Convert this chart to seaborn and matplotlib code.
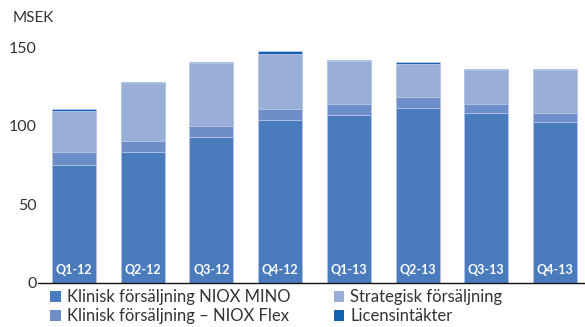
import matplotlib
matplotlib.use("Agg")
import matplotlib.pyplot as plt
import seaborn as sns
import pandas as pd
import numpy as np
from matplotlib.patches import Patch

quarters = ["Q1-12", "Q2-12", "Q3-12", "Q4-12", "Q1-13", "Q2-13", "Q3-13", "Q4-13"]
mino = [75, 83, 93, 104, 107, 111.5, 108, 102.5]
flex = [8, 7.5, 7, 6.5, 7, 7, 6, 5.5]
strat = [26.5, 37, 40, 35.5, 27.5, 21, 21.5, 27.5]
licens = [1, 0.5, 0.5, 1.5, 0.5, 1, 1, 0.5]

series_names = ["Klinisk försäljning NIOX MINO", "Klinisk försäljning – NIOX Flex",
                "Strategisk försäljning", "Licensintäkter"]
colors = ["#4a7bbd", "#6d8ec9", "#9aafd8", "#1362b1"]
yticks = [0, 50, 100, 150]

sns.set_theme(style="white")
plt.rcParams['font.family'] = ['Lato', 'DejaVu Sans']

df = pd.DataFrame({"quarter": quarters, "mino": mino, "flex": flex,
                   "strat": strat, "licens": licens})
df["c1"] = df["mino"]
df["c2"] = df["c1"] + df["flex"]
df["c3"] = df["c2"] + df["strat"]
df["c4"] = df["c3"] + df["licens"]

fig = plt.figure(figsize=(5.85, 3.27), dpi=100)
ax = fig.add_axes([0.065, 0.136, 0.935, 0.719])

for col, c in zip(["c4", "c3", "c2", "c1"], colors[::-1]):
    sns.barplot(data=df, x="quarter", y=col, color=c, saturation=1, width=0.64,
                edgecolor="#b9c9e9", linewidth=0.6, ax=ax, order=quarters)

for i, q in enumerate(quarters):
    ax.text(i, 8, q, ha="center", va="center", color="white",
            fontsize=9, fontweight="bold")

ax.set_ylim(0, 150)
ax.set_xlim(-0.524, 7.437)
ax.set_yticks(yticks)
ax.set_yticklabels([str(v) for v in yticks], fontsize=11.5, color="#333333")
ax.set_xticks([])
ax.set_xlabel("")
ax.set_ylabel("")
ax.tick_params(axis="y", length=0, pad=1)
for s in ["top", "right", "left"]:
    ax.spines[s].set_visible(False)
ax.spines["bottom"].set_color("#111111")
ax.spines["bottom"].set_linewidth(1.0)

fig.text(13/585, 1 - 18/327, "MSEK", fontsize=11, color="#333333", va="center", ha="left")

handles = [Patch(facecolor=c, edgecolor="none") for c in colors]
fig.legend(handles, series_names, ncol=2, loc="upper left",
           bbox_to_anchor=(50/585, 1 - 289/327), frameon=False,
           fontsize=12, handlelength=0.65, handleheight=0.65, handletextpad=0.35,
           columnspacing=2.6, labelspacing=0.2, borderpad=0, borderaxespad=0,
           labelcolor="#333333")

fig.savefig("out.png", dpi=100)
